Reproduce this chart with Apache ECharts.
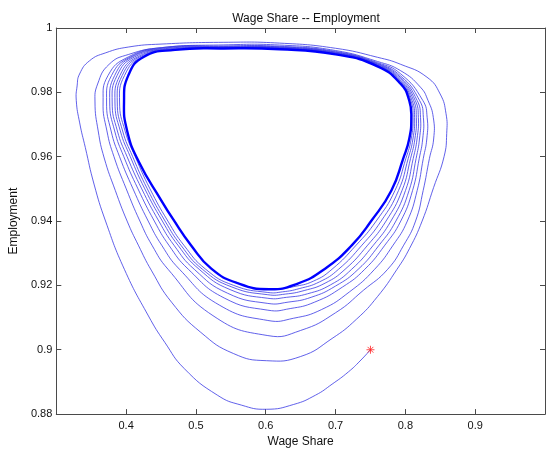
<!DOCTYPE html>
<html>
<head>
<meta charset="utf-8">
<script src="https://cdn.jsdelivr.net/npm/echarts@6/dist/echarts.min.js"></script>
<style>
  html, body { margin: 0; padding: 0; background: #ffffff; }
  #chart { width: 548px; height: 453px; }
</style>
</head>
<body>
<div id="chart"></div>
<script>
// Goodwin cycle: wage share (x) vs employment rate (y), clockwise spiral
// from the initial point into the limit cycle.

const startPoint = [0.75, 0.9];

// first turn, beginning at the initial point
const loop1 = [
  [0.75, 0.9], [0.735, 0.8965], [0.7183, 0.8931], [0.695, 0.8893], [0.6714, 0.8859],
  [0.64, 0.883], [0.601, 0.8815], [0.565, 0.8828], [0.5306, 0.8859], [0.4835, 0.8941],
  [0.4554, 0.9023], [0.432, 0.9105], [0.3975, 0.925], [0.3705, 0.94], [0.354, 0.9515],
  [0.3415, 0.9629], [0.3335, 0.9705], [0.3286, 0.9775], [0.3298, 0.982], [0.3333, 0.9857],
  [0.3475, 0.9898], [0.3709, 0.9923], [0.4038, 0.9941], [0.45, 0.995], [0.54, 0.99555],
  [0.62, 0.9953], [0.70, 0.9937], [0.76, 0.9909], [0.7934, 0.9887], [0.831, 0.9847],
  [0.8498, 0.9795], [0.8582, 0.9734], [0.8592, 0.9672], [0.8554, 0.96], [0.8404, 0.9504],
  [0.824, 0.94], [0.806, 0.9315], [0.788, 0.925], [0.76, 0.9165], [0.73, 0.9095],
  [0.695, 0.9035], [0.65, 0.8979]
];

const loop2 = [
  [0.601, 0.8966], [0.554, 0.8988], [0.507, 0.9054], [0.465, 0.9148], [0.4366, 0.9245],
  [0.4175, 0.9325], [0.4014, 0.94], [0.3845, 0.9495], [0.3686, 0.9596], [0.36, 0.968],
  [0.3554, 0.977], [0.3592, 0.9826], [0.3756, 0.9887], [0.4038, 0.9918], [0.4507, 0.9939],
  [0.54, 0.99475], [0.62, 0.9947], [0.70, 0.993], [0.76, 0.9896], [0.7934, 0.9867],
  [0.8216, 0.9816], [0.8324, 0.9775], [0.84, 0.9722], [0.8405, 0.9655], [0.8345, 0.9595],
  [0.8255, 0.9495], [0.8146, 0.94], [0.7976, 0.9325], [0.7746, 0.925], [0.74, 0.9185],
  [0.70, 0.9115], [0.65, 0.906]
];

const loop3 = [
  [0.603, 0.9044], [0.5244, 0.9106], [0.4601, 0.925], [0.437, 0.9325], [0.4197, 0.94],
  [0.4002, 0.95], [0.3826, 0.96], [0.3725, 0.968], [0.367, 0.977], [0.374, 0.9852],
  [0.403, 0.991], [0.452, 0.99392], [0.54, 0.99442], [0.62, 0.99432], [0.70, 0.99271],
  [0.76, 0.98924], [0.7934, 0.98572], [0.8249, 0.9775], [0.8312, 0.9722], [0.8307, 0.9655],
  [0.8257, 0.9595], [0.8169, 0.9495], [0.8028, 0.94], [0.7824, 0.9325], [0.7559, 0.925],
  [0.72, 0.918], [0.68, 0.9125], [0.64, 0.9098]
];

const loop4 = [
  [0.603, 0.9091], [0.5334, 0.9139], [0.4765, 0.925], [0.4509, 0.9325], [0.4316, 0.94],
  [0.4099, 0.95], [0.3906, 0.96], [0.3785, 0.968], [0.372, 0.977], [0.379, 0.9852],
  [0.406, 0.991], [0.454, 0.99374], [0.54, 0.99424], [0.62, 0.99414], [0.70, 0.99252],
  [0.76, 0.989], [0.7934, 0.98506], [0.8203, 0.9775], [0.8258, 0.9722], [0.8248, 0.9655],
  [0.8199, 0.9595], [0.8103, 0.9495], [0.7934, 0.94], [0.7706, 0.9325], [0.7418, 0.925],
  [0.71, 0.9195], [0.67, 0.9148], [0.635, 0.9128]
];

const loop5 = [
  [0.603, 0.9123], [0.5404, 0.9161], [0.4892, 0.925], [0.4612, 0.9325], [0.4404, 0.94],
  [0.417, 0.95], [0.3967, 0.96], [0.3836, 0.968], [0.3765, 0.977], [0.3835, 0.9852],
  [0.4085, 0.991], [0.4565, 0.9936], [0.54, 0.9941], [0.62, 0.994], [0.70, 0.99238],
  [0.76, 0.98882], [0.7934, 0.98457], [0.8168, 0.9775], [0.8217, 0.9722], [0.8202, 0.9655],
  [0.8154, 0.9595], [0.8053, 0.9495], [0.7864, 0.94], [0.7624, 0.9325], [0.7324, 0.925],
  [0.70, 0.9198], [0.665, 0.9163], [0.632, 0.9148]
];

const loop6 = [
  [0.603, 0.9144], [0.545, 0.9176], [0.4976, 0.925], [0.4685, 0.9325], [0.4468, 0.94],
  [0.4224, 0.95], [0.4014, 0.96], [0.3875, 0.968], [0.38, 0.977], [0.387, 0.9852],
  [0.412, 0.991], [0.46, 0.99348], [0.54, 0.99398], [0.62, 0.99388], [0.70, 0.99224],
  [0.76, 0.98866], [0.7934, 0.98412], [0.8141, 0.9775], [0.8186, 0.9722], [0.8167, 0.9655],
  [0.8113, 0.9595], [0.8002, 0.9495], [0.7793, 0.94], [0.7542, 0.9325], [0.723, 0.925],
  [0.693, 0.9202], [0.66, 0.9174], [0.63, 0.9163]
];

const loop7 = [
  [0.603, 0.916], [0.5489, 0.9187], [0.5047, 0.925], [0.4742, 0.9325], [0.4519, 0.94],
  [0.4268, 0.95], [0.406, 0.96], [0.3917, 0.968], [0.384, 0.977], [0.391, 0.9852],
  [0.416, 0.991], [0.464, 0.99336], [0.54, 0.99386], [0.62, 0.99376], [0.70, 0.99212],
  [0.76, 0.9885], [0.7934, 0.98371], [0.8117, 0.9775], [0.8157, 0.9722], [0.8136, 0.9655],
  [0.8075, 0.9595], [0.7952, 0.9495], [0.7723, 0.94], [0.746, 0.9325], [0.7136, 0.925],
  [0.685, 0.9207], [0.655, 0.9184], [0.628, 0.9173]
];

const loop8 = [
  [0.603, 0.9171], [0.5515, 0.9195], [0.5094, 0.925], [0.4784, 0.9325], [0.4558, 0.94],
  [0.4304, 0.95], [0.4094, 0.96], [0.395, 0.968], [0.3873, 0.977], [0.3943, 0.9852],
  [0.4193, 0.991], [0.4673, 0.99326], [0.54, 0.99376], [0.62, 0.99366], [0.70, 0.99202],
  [0.76, 0.98837], [0.7934, 0.98334], [0.8095, 0.9775], [0.8132, 0.9722], [0.8108, 0.9655],
  [0.8041, 0.9595], [0.7902, 0.9495], [0.7653, 0.94], [0.7378, 0.9325], [0.7042, 0.925],
  [0.677, 0.9211], [0.648, 0.919], [0.624, 0.918]
];

const loop9 = [
  [0.603, 0.9178], [0.5541, 0.92], [0.5141, 0.925], [0.4827, 0.9325], [0.4598, 0.94],
  [0.4342, 0.95], [0.4131, 0.96], [0.3985, 0.968], [0.3906, 0.977], [0.3976, 0.9852],
  [0.4226, 0.991], [0.4706, 0.99317], [0.54, 0.99367], [0.62, 0.99357], [0.70, 0.99192],
  [0.76, 0.98825], [0.7934, 0.98301], [0.8077, 0.9775], [0.811, 0.9722], [0.8083, 0.9655],
  [0.8008, 0.9595], [0.7851, 0.9495], [0.7582, 0.94], [0.7295, 0.9325], [0.6948, 0.925],
  [0.668, 0.9213], [0.64, 0.9196], [0.62, 0.919]
];

// closed orbit the trajectory settles on (first point not repeated)
const limitCycle = [
  [0.605, 0.9188], [0.5594, 0.9207], [0.522, 0.9252], [0.4929, 0.9325], [0.4675, 0.9405],
  [0.4507, 0.9463], [0.4178, 0.9586], [0.4015, 0.968], [0.397, 0.977], [0.403, 0.9852],
  [0.425, 0.991], [0.47, 0.9932], [0.54, 0.99365], [0.62, 0.9934], [0.70, 0.9918],
  [0.76, 0.9881], [0.7934, 0.9826], [0.8055, 0.9775], [0.8085, 0.9722], [0.8055, 0.9655],
  [0.797, 0.9595], [0.78, 0.9495], [0.751, 0.94], [0.7235, 0.9325], [0.685, 0.9252],
  [0.645, 0.9205]
];

const xTickValues = [0.4, 0.5, 0.6, 0.7, 0.8, 0.9];

const trajectory = [].concat(loop1, loop2, loop3, loop4, loop5, loop6, loop7, loop8, loop9, [limitCycle[0]]);

const FONT = 'Liberation Sans, Arial, Helvetica, sans-serif';
const AXIS_COLOR = '#4a4a4a';

function xLabel(v) {
  const r = Math.round(v * 10) / 10;
  return xTickValues.indexOf(r) >= 0 ? String(r) : '';
}

// One smooth curve through all points of a series, placed with the grid's own axes.
function curveRenderer(points, closed, color, width) {
  return function (params, api) {
    if (params.dataIndex !== 0) return null;
    const pix = points.map(function (p) { return api.coord(p); });
    return {
      type: closed ? 'polygon' : 'polyline',
      shape: { points: pix, smooth: 0.5 },
      style: { stroke: color, lineWidth: width, fill: null },
      silent: true
    };
  };
}

const chart = echarts.init(document.getElementById('chart'), null, { renderer: 'canvas' });

const baseX = {
  type: 'value', min: 0.3, max: 1.0, interval: 0.1,
  axisLine: { show: true, onZero: false, lineStyle: { color: AXIS_COLOR, width: 1 } },
  axisTick: { show: true, inside: true, length: 5, lineStyle: { color: AXIS_COLOR } },
  splitLine: { show: false }
};
const baseY = {
  type: 'value', min: 0.88, max: 1.0, interval: 0.02,
  axisLine: { show: true, onZero: false, lineStyle: { color: AXIS_COLOR, width: 1 } },
  axisTick: { show: true, inside: true, length: 5, lineStyle: { color: AXIS_COLOR } },
  splitLine: { show: false }
};

chart.setOption({
  animation: false,
  backgroundColor: '#ffffff',
  title: {
    text: 'Wage Share -- Employment',
    left: 301, top: 8, textAlign: 'center',
    textStyle: { fontFamily: FONT, fontSize: 12, fontWeight: 'normal', color: '#111' }
  },
  grid: { left: 53, top: 28, width: 496, height: 391, containLabel: false },
  xAxis: [
    Object.assign({}, baseX, {
      position: 'bottom',
      name: 'Wage Share', nameLocation: 'middle', nameGap: 18,
      nameTextStyle: { fontFamily: FONT, fontSize: 12, color: '#111' },
      axisLabel: { show: true, margin: 6, formatter: xLabel, fontFamily: FONT, fontSize: 11, color: '#111' }
    }),
    Object.assign({}, baseX, { position: 'top', axisLabel: { show: false } })
  ],
  yAxis: [
    Object.assign({}, baseY, {
      position: 'left',
      name: 'Employment', nameLocation: 'middle', nameGap: 30, nameRotate: 90,
      nameTextStyle: { fontFamily: FONT, fontSize: 12, color: '#111' },
      axisLabel: { show: true, margin: 4, fontFamily: FONT, fontSize: 11, color: '#111' }
    }),
    Object.assign({}, baseY, { position: 'right', axisLabel: { show: false } })
  ],
  series: [
    {
      name: 'trajectory', type: 'custom', coordinateSystem: 'cartesian2d',
      xAxisIndex: 0, yAxisIndex: 0, data: trajectory, clip: false,
      renderItem: curveRenderer(trajectory, false, '#3838e4', 0.8), z: 2
    },
    {
      name: 'limit cycle', type: 'custom', coordinateSystem: 'cartesian2d',
      xAxisIndex: 0, yAxisIndex: 0, data: limitCycle, clip: false,
      renderItem: curveRenderer(limitCycle, true, '#0000ff', 2.4), z: 3
    },
    {
      name: 'start', type: 'scatter', xAxisIndex: 0, yAxisIndex: 0,
      data: [startPoint],
      symbol: 'path://M0,-5L0,5M-5,0L5,0M-3.6,-3.6L3.6,3.6M-3.6,3.6L3.6,-3.6',
      symbolSize: 8,
      itemStyle: { color: 'rgba(0,0,0,0)', borderColor: '#ff2020', borderWidth: 1 },
      z: 5
    }
  ]
});
</script>
</body>
</html>
